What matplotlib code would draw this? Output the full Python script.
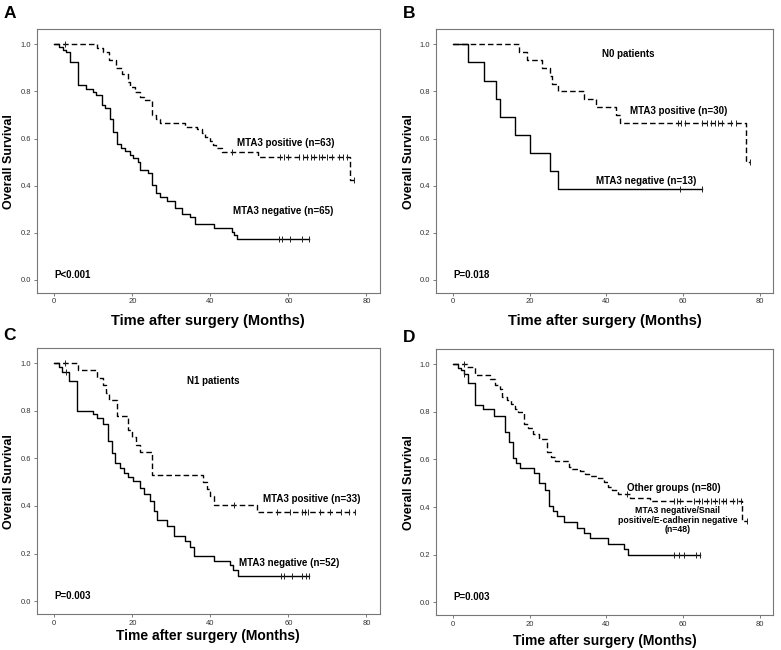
import matplotlib
matplotlib.use("Agg")

import matplotlib.pyplot as plt
import numpy as np

plt.rcParams["font.family"] = ["Liberation Sans", "DejaVu Sans"]

# ---- A: all patients ----
a_pos_t = [11, 12.6, 14, 15.9, 17.3, 18.8, 19.3, 20.8, 21.9, 22.9, 25, 26.2, 27.2,
           33.6, 36.6, 37.9, 38.7, 39.8, 40.7, 41.5, 43, 52.1, 75.9]
a_pos_s = [0.984, 0.967, 0.932, 0.90, 0.876, 0.84, 0.82, 0.798, 0.777, 0.763, 0.70, 0.682, 0.664,
           0.65, 0.639, 0.622, 0.607, 0.589, 0.572, 0.558, 0.541, 0.523, 0.424]
a_pos_cens = [2.8, 45.5, 57.9, 58.8, 59.8, 62.7, 63.8, 64.8, 65.7, 66.7, 67.8, 68.6, 70, 71.2,
              72.9, 74, 75, 76.8]
a_neg_t = [1.1, 2.2, 3.1, 4.1, 6.0, 8.2, 9.9, 10.8, 12.2, 13.1, 14.2, 15.0, 16.1, 17.1, 18.2,
           19.3, 20.3, 21.4, 22.1, 24, 25, 26.2, 27.2, 28.9, 31.0, 32.7, 34.9, 36.2, 40.9, 45.5,
           46.0, 46.9]
a_neg_s = [0.989, 0.975, 0.967, 0.925, 0.826, 0.812, 0.798, 0.784, 0.741, 0.73, 0.682, 0.629,
           0.579, 0.561, 0.547, 0.53, 0.516, 0.499, 0.466, 0.452, 0.402, 0.367, 0.353, 0.336,
           0.304, 0.282, 0.268, 0.236, 0.222, 0.205, 0.191, 0.172]
a_neg_cens = [57.5, 58.4, 60.5, 63.5, 65.2]

# ---- B: N0 patients ----
b_pos_t = [17.2, 19.2, 23.2, 25.2, 25.8, 27.3, 34.1, 37.4, 42.4, 43.6, 76.3]
b_pos_s = [0.967, 0.933, 0.90, 0.867, 0.833, 0.80, 0.767, 0.733, 0.70, 0.667, 0.50]
b_pos_cens = [58.6, 59.5, 60.4, 64.8, 66.1, 67.2, 68.3, 69.1, 70.2, 72.4, 73.8, 77.4]
b_neg_t = [3.9, 8.1, 11.1, 12.3, 16.2, 20.1, 25.2, 27.3]
b_neg_s = [0.923, 0.846, 0.769, 0.692, 0.615, 0.538, 0.462, 0.385]
b_neg_cens = [59.3, 64.8]

# ---- C: N1 patients ----
c_pos_t = [6, 11, 12.6, 13.2, 14, 16, 19, 20, 21, 22, 25, 38, 39.2, 40, 41, 52]
c_pos_s = [0.97, 0.94, 0.91, 0.875, 0.845, 0.78, 0.72, 0.69, 0.655, 0.625, 0.53, 0.50, 0.47,
           0.44, 0.405, 0.375]
c_pos_cens = [2.8, 46, 57, 60.5, 63.5, 64.2, 65, 68, 70.8, 73.5, 75.5, 77]
c_neg_t = [1.1, 2.0, 3.9, 5.8, 9.9, 10.9, 12.6, 13.9, 14.8, 15.6, 16.9, 17.9, 18.8, 20.2, 21.9,
           22.9, 24.6, 25.5, 26.3, 29, 30.8, 33.6, 34.9, 35.7, 41, 45, 45.8, 47]
c_neg_s = [0.984, 0.963, 0.926, 0.799, 0.785, 0.768, 0.743, 0.673, 0.624, 0.582, 0.561, 0.54,
           0.522, 0.505, 0.477, 0.449, 0.421, 0.38, 0.34, 0.316, 0.273, 0.252, 0.227, 0.19,
           0.17, 0.15, 0.13, 0.105]
c_neg_cens = [3.0, 58, 59, 61, 63.5, 64.4, 65.3]

# ---- D: Other groups vs MTA3-/Snail+/E-cadherin- ----
d_pos_t = [3.6, 5.7, 9.6, 10.9, 12.2, 12.9, 14.1, 15.2, 16.1, 16.9, 18.6, 19.5, 20.8, 22.5,
           24.6, 25.5, 26.6, 30.2, 31.1, 33.2, 34.5, 35.6, 37.9, 39.3, 40.4, 41.4, 42.9, 46.1,
           51.3, 75.3]
d_pos_s = [0.988, 0.954, 0.94, 0.915, 0.898, 0.863, 0.849, 0.835, 0.814, 0.80, 0.751, 0.733,
           0.709, 0.688, 0.632, 0.611, 0.593, 0.569, 0.56, 0.55, 0.54, 0.53, 0.52, 0.504, 0.486,
           0.471, 0.453, 0.439, 0.425, 0.34]
d_pos_cens = [2.9, 45.3, 57.5, 58.4, 59.2, 62.9, 64, 65.0, 66.1, 67.2, 68.2, 69.3, 70.5, 71.2,
              73, 74, 75, 76.6]
d_neg_t = [1.2, 2.1, 2.9, 3.8, 5.7, 7.9, 10.6, 13.5, 14.6, 15.6, 16.5, 17.5, 21, 22.5, 24, 25,
           26, 27, 29, 32.4, 34.2, 35.6, 40.5, 44.5, 45.6]
d_neg_s = [0.985, 0.975, 0.96, 0.92, 0.83, 0.81, 0.783, 0.716, 0.672, 0.605, 0.583, 0.562,
           0.541, 0.499, 0.471, 0.406, 0.383, 0.363, 0.338, 0.31, 0.292, 0.27, 0.245, 0.225, 0.20]
d_neg_cens = [3.0, 57.7, 59, 60.3, 63.3, 64.4]

p_values = ["P<0.001", "P=0.018", "P=0.003", "P=0.003"]
panel_letters = ["A", "B", "C", "D"]


def km_curve(ax, t, s, cens, dashed=False):
    """阶梯生存曲线 + 删失标记"""
    end = max(max(t), max(cens))
    x = np.r_[0.0, t, end]
    y = np.r_[1.0, s, s[-1]]
    ls = (0, (4, 2.2)) if dashed else "-"
    ax.step(x, y, where="post", color="black", lw=1.0, ls=ls)
    idx = np.searchsorted(x, cens, side="right") - 1
    ax.plot(cens, y[idx], ls="none", marker="|", ms=4, mew=0.7, color="#222222")


def style_axes(ax, xlab_y, xlab_size):
    ax.set_xlim(-4.5, 83.5)
    ax.set_ylim(-0.054, 1.063)
    ax.set_xticks([0, 20, 40, 60, 80])
    ax.set_yticks([0.0, 0.2, 0.4, 0.6, 0.8, 1.0])
    ax.yaxis.set_major_formatter("{x:.1f}")
    ax.tick_params(labelsize=5.5, length=2.5, width=0.6, color="#666666",
                   labelcolor="#333333", pad=1.5)
    for sp in ax.spines.values():
        sp.set_color("#777777")
        sp.set_linewidth(0.8)
    ax.set_ylabel("Overall Survival", fontsize=9, fontweight="bold")
    ax.set_xlabel("Time after surgery (Months)", fontsize=xlab_size, fontweight="bold")
    ax.yaxis.set_label_coords(-0.062, 0.5)
    ax.xaxis.set_label_coords(0.5, xlab_y)
    ax.xaxis.label.set_va("center")


fig = plt.figure(figsize=(7.81, 6.5), dpi=100)
axA = fig.add_axes([0.047, 0.5497, 0.4396, 0.405])
axB = fig.add_axes([0.5579, 0.5497, 0.4323, 0.405])
axC = fig.add_axes([0.047, 0.0554, 0.4396, 0.4088])
axD = fig.add_axes([0.5579, 0.0538, 0.4323, 0.4088])
axes = [axA, axB, axC, axD]

km_curve(axA, a_pos_t, a_pos_s, a_pos_cens, dashed=True)
km_curve(axA, a_neg_t, a_neg_s, a_neg_cens)
km_curve(axB, b_pos_t, b_pos_s, b_pos_cens, dashed=True)
km_curve(axB, b_neg_t, b_neg_s, b_neg_cens)
km_curve(axC, c_pos_t, c_pos_s, c_pos_cens, dashed=True)
km_curve(axC, c_neg_t, c_neg_s, c_neg_cens)
km_curve(axD, d_pos_t, d_pos_s, d_pos_cens, dashed=True)
km_curve(axD, d_neg_t, d_neg_s, d_neg_cens)

for ax, xl, fs in zip(axes, [-0.107, -0.107, -0.082, -0.098], [10.5, 10.5, 10, 10]):
    style_axes(ax, xl, fs)

# 标注
tk = dict(fontsize=7, fontweight="bold", ha="center", va="center")
axA.text(59.4, 0.58, "MTA3 positive (n=63)", **tk)
axA.text(58.7, 0.292, "MTA3 negative (n=65)", **tk)
axB.text(45.6, 0.96, "N0 patients", **tk)
axB.text(58.8, 0.718, "MTA3 positive (n=30)", **tk)
axB.text(50.3, 0.42, "MTA3 negative (n=13)", **tk)
axC.text(40.8, 0.925, "N1 patients", **tk)
axC.text(66.0, 0.428, "MTA3 positive (n=33)", **tk)
axC.text(60.1, 0.16, "MTA3 negative (n=52)", **tk)
axD.text(57.6, 0.478, "Other groups (n=80)", **tk)
axD.text(58.6, 0.345, "MTA3 negative/Snail\npositive/E-cadherin negative\n(n=48)",
         linespacing=1.05, fontsize=6.3, fontweight="bold", ha="center", va="center")

for ax, p in zip(axes, p_values):
    ax.text(0, 0.02, p, fontsize=7, fontweight="bold", ha="left", va="center")

for (x, y), letter in zip([(0.004, 0.972), (0.516, 0.972), (0.004, 0.477), (0.516, 0.474)],
                          panel_letters):
    fig.text(x, y, letter, fontsize=12.5, fontweight="bold", va="baseline")

fig.savefig("out.png", dpi=100, facecolor="white")
